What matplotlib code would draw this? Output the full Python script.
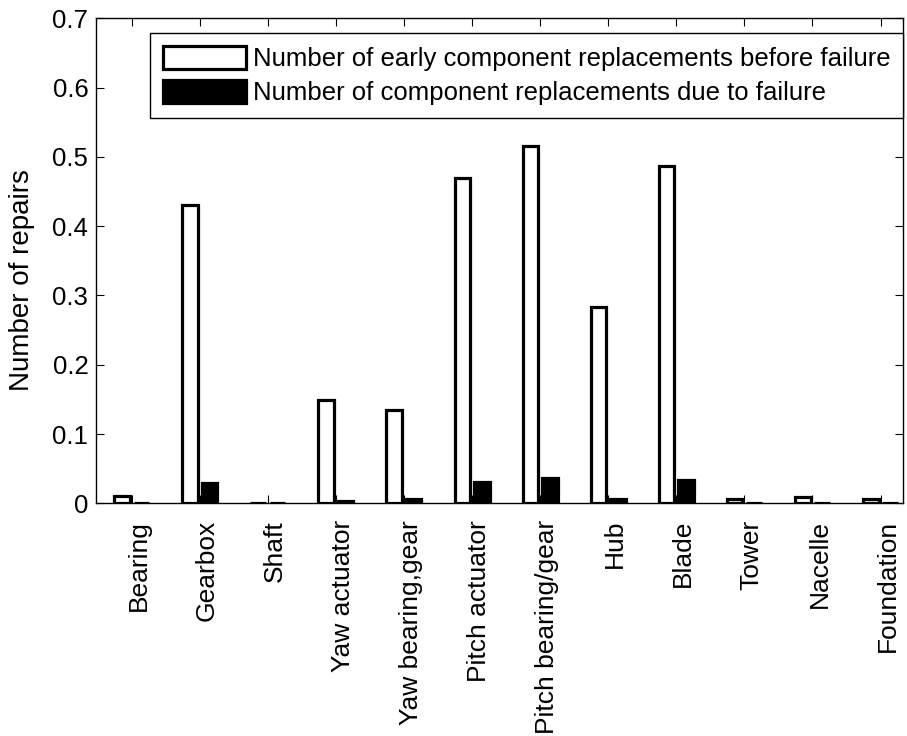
import numpy as np
import matplotlib
matplotlib.use("Agg")
import matplotlib.pyplot as plt
from matplotlib.ticker import FuncFormatter
import matplotlib.transforms as mtransforms

plt.rcParams["font.family"] = ["Liberation Sans", "DejaVu Sans"]

# Component categories and repair counts
components = ["Bearing", "Gearbox", "Shaft", "Yaw actuator", "Yaw bearing,gear",
              "Pitch actuator", "Pitch bearing/gear", "Hub", "Blade", "Tower",
              "Nacelle", "Foundation"]
early_replacements = [0.011, 0.430, 0.001, 0.149, 0.135, 0.469, 0.516, 0.283,
                      0.487, 0.006, 0.009, 0.006]
failure_replacements = [0.001, 0.029, 0.001, 0.004, 0.006, 0.031, 0.037, 0.006,
                        0.034, 0.001, 0.001, 0.001]
yticks = [0, 0.1, 0.2, 0.3, 0.4, 0.5, 0.6, 0.7]
legend_labels = ["Number of early component replacements before failure",
                 "Number of component replacements due to failure"]

FS = 18.5
W, H = 907, 736
fig = plt.figure(figsize=(W / 100, H / 100), dpi=100)
ax = fig.add_axes([96 / W, 1 - 503.3 / H, 807 / W, 485 / H])

x = np.arange(1, len(components) + 1)
group_w = 2 / 3.5
bar_w = 0.8 * group_w / 2
off = group_w / 4

ax.set_axisbelow(True)
ax.bar(x - off, early_replacements, width=bar_w, facecolor="white",
       edgecolor="black", linewidth=2.3, label=legend_labels[0])
ax.bar(x + off, failure_replacements, width=bar_w, facecolor="black",
       edgecolor="black", linewidth=2.3, label=legend_labels[1])

ax.set_xlim(0.476, 12.33)
ax.set_ylim(0, 0.7)
ax.set_yticks(yticks)
ax.yaxis.set_major_formatter(FuncFormatter(lambda v, p: "0" if v == 0 else f"{v:g}"))
ax.set_xticks(x)
ax.set_xticklabels(components, rotation=90, va="top", ha="center", fontsize=19)

for s in ax.spines.values():
    s.set_linewidth(1.0)
    s.set_color("black")

ax.tick_params(axis="both", direction="in", length=6, width=0.8,
               top=True, right=True, colors="black")
ax.tick_params(axis="y", pad=5.5, labelsize=FS)
ax.tick_params(axis="x", pad=12)

shift = mtransforms.ScaledTranslation(7 / 100, 0, fig.dpi_scale_trans)
for lbl in ax.get_xticklabels():
    lbl.set_transform(lbl.get_transform() + shift)

ax.set_ylabel("Number of repairs", fontsize=20)
ax.yaxis.set_label_coords(-0.075, 0.46)

leg = ax.legend(loc="upper right", bbox_to_anchor=(1.0, (503.3 - 33) / 485),
                borderaxespad=0, fontsize=FS, fancybox=False, framealpha=1,
                edgecolor="black", handlelength=3.25, handleheight=1.0,
                handletextpad=0.25, labelspacing=0.35, borderpad=0.5)
leg.get_frame().set_linewidth(1.0)

fig.savefig("out.png", dpi=100)
